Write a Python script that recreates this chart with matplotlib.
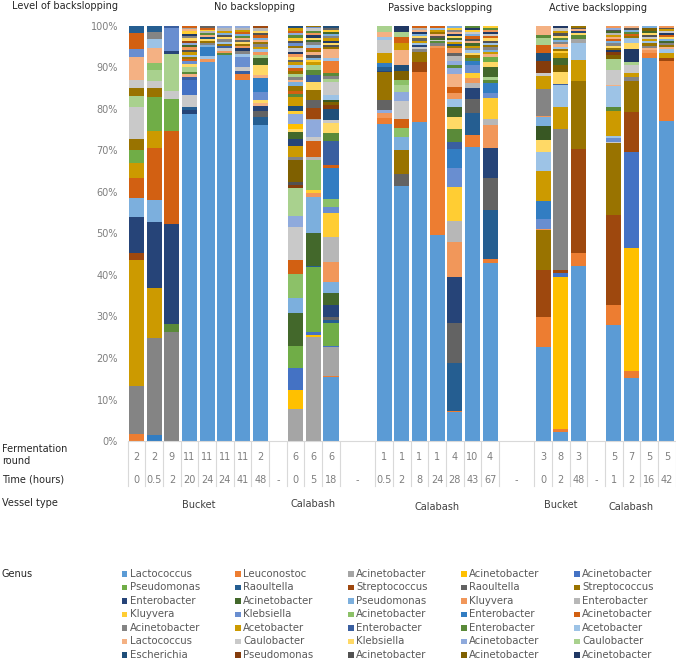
import matplotlib.pyplot as plt
from matplotlib.patches import Rectangle
from matplotlib.transforms import blended_transform_factory

W, H = 676, 665

# Excel default series colours (series 1..36)
PALETTE = ['#5B9BD5', '#ED7D31', '#A5A5A5', '#FFC000', '#4472C4', '#70AD47',
           '#255E91', '#9E480E', '#636363', '#997300', '#264478', '#43682B',
           '#7CAFDD', '#F1975A', '#B7B7B7', '#FFCD33', '#698ED0', '#8CC168',
           '#327DC2', '#D26012', '#848484', '#CC9A00', '#3A5FA0', '#5A8A39',
           '#9DC3E6', '#F4B183', '#C9C9C9', '#FFD966', '#8FAADC', '#A9D18E',
           '#1F4E79', '#843C0C', '#525252', '#7F6000', '#203864', '#385723']

GENUS = ['Lactococcus', 'Leuconostoc', 'Acinetobacter', 'Acinetobacter', 'Acinetobacter',
         'Pseudomonas', 'Raoultella', 'Streptococcus', 'Raoultella', 'Streptococcus',
         'Enterobacter', 'Acinetobacter', 'Pseudomonas', 'Kluyvera', 'Enterobacter',
         'Kluyvera', 'Klebsiella', 'Acinetobacter', 'Enterobacter', 'Acinetobacter',
         'Acinetobacter', 'Acetobacter', 'Enterobacter', 'Enterobacter', 'Acetobacter',
         'Lactococcus', 'Caulobacter', 'Klebsiella', 'Acinetobacter', 'Caulobacter',
         'Escherichia', 'Pseudomonas', 'Acinetobacter', 'Acinetobacter', 'Acinetobacter']

# fermentation round / time per group
ROUND_NO_BUCKET = ['2', '2', '9', '11', '11', '11', '11', '2']
TIME_NO_BUCKET = ['0', '0.5', '2', '20', '24', '24', '41', '48']
ROUND_NO_CALABASH = ['6', '6', '6']
TIME_NO_CALABASH = ['0', '5', '18']
ROUND_PASSIVE = ['1', '1', '1', '1', '4', '10', '4']
TIME_PASSIVE = ['0.5', '2', '8', '24', '28', '43', '67']
ROUND_ACT_BUCKET = ['3', '8', '3']
TIME_ACT_BUCKET = ['0', '2', '48']
ROUND_ACT_CALABASH = ['5', '7', '5', '5']
TIME_ACT_CALABASH = ['1', '2', '16', '42']

VESSELS = ['Bucket', 'Calabash', 'Calabash', 'Bucket', 'Calabash']
GAP_SLOTS = [1, 2, 2, 1]

# stacked segments bottom -> top: (series number, percent)
NO_BUCKET = [
    [(2, 1.8), (21, 11.5), (22, 30.3), (8, 1.6), (11, 8.7), (13, 4.6), (20, 4.9), (22, 3.7),
     (6, 2.9), (10, 2.7), (27, 7.7), (30, 2.8), (10, 1.8), (27, 2.0), (26, 5.5), (17, 1.9),
     (20, 3.8), (7, 1.8)],
    [(19, 1.4), (21, 23.5), (22, 11.9), (11, 15.9), (13, 5.4), (20, 12.6), (22, 4.0), (6, 8.3),
     (10, 2.0), (27, 1.7), (30, 2.7), (18, 1.6), (26, 3.8), (25, 2.0), (21, 1.8), (7, 1.4)],
    [(21, 26.2), (24, 1.9), (11, 24.3), (20, 22.3), (6, 7.7), (27, 1.9), (30, 8.9), (11, 0.8),
     (17, 5.4), (23, 0.6)],
    [(1, 78.8), (11, 1.0), (7, 0.7), (27, 2.8), (5, 3.6), (23, 0.8), (26, 0.7), (24, 0.6),
     (30, 1.2), (28, 0.7), (17, 0.6), (20, 0.5), (10, 0.6), (25, 0.5), (22, 0.7), (33, 0.5),
     (14, 0.6), (12, 0.5), (29, 0.6), (8, 0.5), (28, 0.6), (21, 0.5), (35, 0.5), (16, 0.6),
     (26, 0.5), (3, 0.4), (20, 0.4)],
    [(1, 91.3), (14, 0.8), (25, 0.6), (19, 2.2), (13, 0.6), (21, 0.5), (10, 0.4), (28, 0.5),
     (31, 0.4), (26, 0.5), (24, 0.4), (15, 0.5), (16, 0.4), (20, 0.5), (9, 0.4)],
    [(1, 93.0), (24, 0.5), (14, 0.5), (27, 0.6), (23, 0.5), (10, 0.5), (25, 0.6), (21, 0.6),
     (28, 0.5), (33, 0.5), (13, 0.6), (22, 0.5), (15, 0.6), (29, 0.5)],
    [(1, 87.0), (2, 1.4), (23, 0.8), (27, 0.9), (17, 2.4), (25, 0.7), (21, 0.8), (35, 0.6),
     (14, 0.5), (10, 0.5), (28, 0.5), (9, 0.6), (26, 0.5), (24, 0.4), (13, 0.5), (20, 0.5),
     (22, 0.5), (15, 0.4), (29, 0.5)],
    [(1, 76.1), (7, 2.0), (9, 1.4), (11, 1.2), (26, 0.7), (28, 0.8), (17, 2.0), (19, 3.2),
     (26, 0.8), (28, 2.4), (12, 1.8), (30, 0.6), (14, 0.8), (25, 0.6), (22, 0.5), (21, 0.7),
     (10, 0.5), (26, 0.6), (13, 0.5), (20, 0.6), (33, 0.5), (28, 0.6), (15, 0.6), (8, 0.5)],
]

NO_CALABASH = [
    [(3, 7.7), (4, 4.7), (5, 5.3), (6, 5.3), (12, 7.9), (13, 3.5), (18, 5.8), (20, 3.3),
     (27, 8.1), (29, 2.6), (30, 6.7), (32, 0.9), (33, 0.6), (34, 5.2), (21, 0.8), (22, 2.8),
     (11, 1.6), (12, 1.6), (28, 0.8), (4, 1.2), (29, 2.4), (16, 0.8), (31, 1.2), (22, 2.0),
     (24, 0.8), (20, 0.8), (10, 1.2), (13, 0.8), (26, 0.6), (21, 0.7), (30, 0.8), (10, 0.6),
     (20, 0.9), (25, 0.6), (22, 0.7), (9, 0.6), (28, 0.6), (14, 0.7), (35, 0.6), (27, 0.8),
     (10, 0.7), (17, 0.6), (33, 0.6), (16, 0.7), (24, 0.6), (29, 0.6), (20, 0.5), (22, 0.6),
     (31, 0.5)],
    [(3, 25.1), (4, 0.4), (5, 0.8), (6, 15.6), (7, 0.3), (12, 8.0), (13, 8.7), (14, 0.8),
     (16, 0.8), (18, 7.2), (15, 0.8), (20, 3.9), (27, 0.8), (29, 4.1), (3, 0.4), (8, 2.5),
     (9, 2.0), (10, 2.4), (28, 2.0), (23, 1.6), (24, 1.2), (30, 1.2), (22, 0.7), (16, 0.6),
     (13, 0.5), (33, 0.7), (26, 0.6), (10, 0.6), (20, 0.5), (25, 0.7), (21, 0.6), (12, 0.6),
     (28, 0.5), (35, 0.6), (14, 0.5), (24, 0.6), (27, 0.5), (17, 0.4), (10, 0.2)],
    [(1, 15.5), (2, 0.2), (3, 7.0), (5, 0.2), (6, 5.5), (7, 0.8), (9, 0.7), (11, 2.9),
     (12, 2.8), (13, 2.8), (14, 4.8), (15, 6.0), (16, 5.7), (17, 1.4), (18, 2.0), (19, 7.4),
     (20, 0.8), (23, 5.9), (24, 1.8), (28, 2.4), (27, 0.7), (31, 2.8), (32, 0.8), (34, 0.8),
     (36, 0.5), (25, 1.1), (27, 3.3), (30, 0.6), (21, 0.8), (24, 0.6), (2, 3.0), (25, 0.6),
     (26, 2.2), (10, 0.5), (33, 0.6), (28, 0.4), (35, 0.6), (22, 0.5), (21, 0.5), (13, 0.5),
     (12, 0.5), (16, 0.5), (9, 0.5), (31, 0.5)],
]

PASSIVE = [
    [(1, 76.3), (2, 1.5), (14, 1.2), (29, 0.8), (9, 2.4), (10, 6.6), (11, 0.4), (7, 1.0),
     (19, 0.8), (22, 2.4), (27, 3.2), (25, 0.8), (26, 1.2), (30, 1.4)],
    [(1, 61.4), (9, 2.9), (10, 5.8), (13, 3.1), (18, 2.2), (20, 2.1), (27, 4.4), (29, 2.3),
     (30, 1.6), (18, 1.2), (34, 2.2), (31, 1.4), (26, 3.6), (22, 1.6), (20, 1.5), (30, 1.3),
     (35, 1.4)],
    [(1, 76.9), (2, 11.9), (8, 2.6), (10, 2.4), (21, 0.6), (27, 0.5), (11, 0.6), (25, 0.5),
     (22, 0.5), (9, 0.6), (28, 0.4), (13, 0.5), (35, 0.5), (26, 0.5), (15, 0.5), (20, 0.5)],
    [(1, 49.6), (2, 45.2), (14, 0.5), (21, 0.5), (24, 0.5), (27, 0.4), (12, 0.5), (33, 0.4),
     (26, 0.5), (10, 0.4), (22, 0.5), (25, 0.5), (20, 0.5)],
    [(1, 7.1), (2, 0.2), (7, 11.4), (9, 9.7), (11, 11.0), (14, 8.6), (15, 5.1), (16, 8.0),
     (17, 4.6), (19, 4.6), (23, 1.8), (24, 3.0), (28, 3.0), (12, 2.3), (25, 1.9), (14, 1.6),
     (20, 1.3), (26, 3.2), (29, 1.5), (24, 0.8), (29, 0.9), (15, 1.1), (9, 0.8), (14, 1.2),
     (10, 0.5), (31, 0.5), (22, 0.5), (27, 0.5), (12, 0.5), (28, 0.4), (35, 0.5), (26, 0.5),
     (21, 0.5), (16, 0.4), (13, 0.5)],
    [(1, 70.9), (2, 2.8), (7, 5.4), (9, 3.3), (11, 2.6), (15, 1.2), (14, 1.2), (16, 1.2),
     (17, 2.0), (19, 1.0), (24, 0.8), (10, 0.6), (28, 0.6), (25, 0.5), (21, 0.6), (22, 0.5),
     (12, 0.6), (26, 0.6), (33, 0.5), (20, 0.6), (13, 0.5), (27, 0.6), (16, 0.4), (35, 0.5),
     (24, 0.5)],
    [(1, 43.0), (2, 0.8), (7, 11.9), (9, 7.7), (11, 7.1), (14, 5.6), (15, 1.4), (16, 5.1),
     (17, 1.3), (19, 2.3), (24, 0.8), (30, 0.8), (12, 2.4), (28, 1.2), (6, 1.2), (26, 0.6),
     (22, 0.6), (13, 0.5), (21, 0.6), (10, 0.5), (25, 0.6), (33, 0.5), (28, 0.5), (20, 0.6),
     (27, 0.5), (35, 0.5), (14, 0.5), (24, 0.4), (16, 0.5)],
]

ACT_BUCKET = [
    [(1, 22.7), (2, 7.1), (8, 11.4), (10, 9.6), (14, 0.4), (17, 2.2), (19, 4.5), (22, 7.2),
     (25, 4.6), (28, 2.8), (36, 3.5), (13, 2.1), (14, 0.3), (21, 6.3), (22, 3.3), (27, 0.6),
     (32, 3.0), (31, 2.0), (20, 1.8), (30, 1.6), (24, 0.8), (26, 2.2)],
    [(1, 2.2), (2, 0.8), (4, 36.6), (5, 0.8), (8, 0.8), (21, 34.1), (22, 5.3), (25, 5.2),
     (23, 0.2), (28, 3.0), (34, 1.6), (12, 1.6), (22, 1.2), (16, 0.5), (10, 0.6), (25, 0.5),
     (26, 0.6), (21, 0.5), (13, 0.6), (24, 0.5), (28, 0.5), (33, 0.6), (22, 0.5), (27, 0.6),
     (35, 0.6)],
    [(1, 42.2), (2, 3.0), (8, 25.2), (10, 16.3), (22, 5.1), (25, 4.0), (3, 1.0), (24, 1.0),
     (28, 0.5), (11, 0.5), (26, 0.4), (33, 0.4), (10, 0.4)],
]

ACT_CALABASH = [
    [(1, 27.9), (2, 4.9), (8, 21.7), (10, 17.2), (27, 0.4), (17, 0.8), (25, 0.5), (22, 6.2),
     (24, 0.8), (25, 5.1), (26, 0.3), (27, 3.6), (30, 2.6), (34, 1.0), (32, 0.8), (35, 0.5),
     (10, 0.5), (28, 0.5), (21, 0.5), (13, 0.5), (20, 0.5), (26, 0.5), (22, 0.5), (15, 0.5),
     (12, 0.4), (33, 0.4), (29, 0.5), (14, 0.4)],
    [(1, 15.3), (2, 1.6), (4, 29.5), (5, 23.2), (8, 9.7), (10, 7.5), (21, 1.0), (22, 0.8),
     (27, 2.0), (30, 0.8), (35, 3.0), (28, 1.4), (25, 1.2), (10, 0.5), (20, 0.5), (24, 0.5),
     (13, 0.5), (33, 0.5), (26, 0.5)],
    [(1, 92.4), (2, 1.2), (14, 0.5), (26, 0.6), (21, 0.5), (10, 0.6), (25, 0.5), (22, 0.5),
     (27, 0.6), (33, 0.5), (28, 0.5), (12, 0.5), (34, 0.6), (13, 0.5)],
    [(1, 77.1), (2, 14.5), (8, 0.6), (22, 1.4), (25, 0.8), (26, 0.5), (10, 0.5), (21, 0.5),
     (12, 0.5), (13, 0.5), (28, 0.4), (20, 0.5), (35, 0.5), (27, 0.5), (22, 0.4), (33, 0.4),
     (14, 0.4)],
]

GROUPS = [NO_BUCKET, NO_CALABASH, PASSIVE, ACT_BUCKET, ACT_CALABASH]
ROUNDS = [ROUND_NO_BUCKET, ROUND_NO_CALABASH, ROUND_PASSIVE, ROUND_ACT_BUCKET, ROUND_ACT_CALABASH]
TIMES = [TIME_NO_BUCKET, TIME_NO_CALABASH, TIME_PASSIVE, TIME_ACT_BUCKET, TIME_ACT_CALABASH]


def fy(ypx):
    return 1 - ypx / H


def main():
    fig = plt.figure(figsize=(W / 100, H / 100), dpi=100)
    ax = fig.add_axes([127.7 / W, fy(441), 548 / W, 415 / H])

    # slot positions of bars and gap cells
    positions, gaps, group_centers = [], [], []
    cursor = 0
    for gi, bars in enumerate(GROUPS):
        pos = list(range(cursor, cursor + len(bars)))
        positions.append(pos)
        group_centers.append((pos[0] + pos[-1]) / 2)
        cursor += len(bars)
        if gi < len(GAP_SLOTS):
            gaps.append(cursor + (GAP_SLOTS[gi] - 1) / 2)
            cursor += GAP_SLOTS[gi]

    for pos, bars in zip(positions, GROUPS):
        for x, segs in zip(pos, bars):
            total = sum(v for _, v in segs)
            bottom = 0
            for s, v in segs:
                h = v * 100 / total
                ax.bar(x, h, bottom=bottom, width=0.85, color=PALETTE[s - 1], linewidth=0)
                bottom += h

    ax.set_xlim(-0.5, cursor - 0.5)
    ax.set_ylim(0, 100)
    for side in ['top', 'right', 'left']:
        ax.spines[side].set_visible(False)
    ax.spines['bottom'].set_color('#D9D9D9')
    ax.set_xticks([])
    ax.set_yticks(range(0, 101, 10))
    ax.set_yticklabels([f'{v}%' for v in range(0, 101, 10)], color='#7F7F7F', fontsize=7)
    ax.tick_params(axis='y', length=0, pad=7)

    tr = blended_transform_factory(ax.transData, fig.transFigure)
    txt = dict(transform=tr, ha='center', va='center', fontsize=7, color='#7F7F7F')

    # table cell lines
    edges = set()
    for pos in positions:
        for x in pos:
            edges.add(x - 0.5)
            edges.add(x + 0.5)
    for e in sorted(edges):
        ax.plot([e, e], [fy(442), fy(486)], color='#D9D9D9', lw=0.8,
                transform=tr, clip_on=False)

    for pos, rnds, tms in zip(positions, ROUNDS, TIMES):
        for x, r, t in zip(pos, rnds, tms):
            ax.text(x, fy(457), r, **txt)
            ax.text(x, fy(480), t, **txt)
    for g in gaps:
        ax.text(g, fy(480), '-', **txt)

    vessel_y = [505, 504, 507, 505, 507]
    vessel_dx = [0, 0, 0, 0, -0.5]
    for c, v, y, dx in zip(group_centers, VESSELS, vessel_y, vessel_dx):
        ax.text(c + dx, fy(y), v, transform=tr, ha='center', va='center',
                fontsize=7, color='#404040')

    lab = dict(fontsize=7, color='#262626', va='center', ha='left')
    fig.text(12 / W, fy(6), 'Level of backslopping', **lab)
    fig.text(255 / W, fy(7), 'No backslopping', ha='center', va='center',
             fontsize=7, color='#262626')
    fig.text(440 / W, fy(8), 'Passive backslopping', ha='center', va='center',
             fontsize=7, color='#262626')
    fig.text(598 / W, fy(8), 'Active backslopping', ha='center', va='center',
             fontsize=7, color='#262626')
    fig.text(2 / W, fy(455), 'Fermentation\nround', linespacing=1.2, **lab)
    fig.text(2 / W, fy(480), 'Time (hours)', **lab)
    fig.text(2 / W, fy(503), 'Vessel type', **lab)
    fig.text(2 / W, fy(574), 'Genus', **lab)

    # legend, row-major like the original
    col_x = [122, 235, 348, 461, 574]
    for i, name in enumerate(GENUS):
        r, c = divmod(i, 5)
        y = 574 + r * 13.45
        fig.add_artist(Rectangle((col_x[c] / W, fy(y + 2.8)), 5.5 / W, 5.5 / H,
                                 transform=fig.transFigure, color=PALETTE[i], lw=0))
        fig.text((col_x[c] + 8) / W, fy(y), name, fontsize=7.3, color='#595959',
                 va='center', ha='left')

    fig.savefig('out.png', dpi=100)


if __name__ == '__main__':
    main()
